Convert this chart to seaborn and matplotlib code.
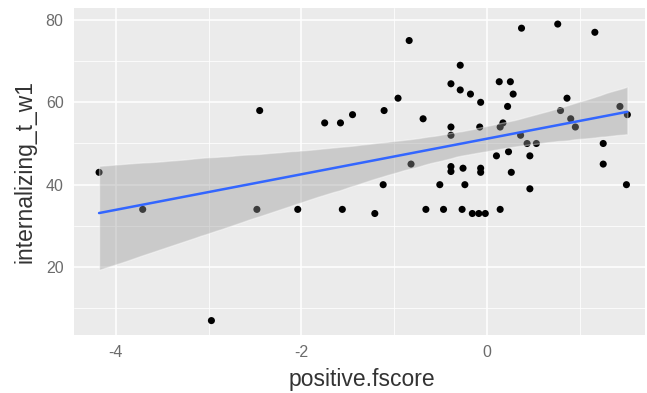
import matplotlib
matplotlib.use("Agg")
import matplotlib.pyplot as plt
import seaborn as sns
import numpy as np
import pandas as pd

positive_fscore = [
    -4.18, -3.71, -2.97, -2.48, -2.45, -2.04, -1.75, -1.58, -1.56, -1.45,
    -1.21, -1.12, -1.11, -0.96, -0.84, -0.82, -0.69, -0.66, -0.51, -0.47,
    -0.39, -0.39, -0.39, -0.39, -0.39, -0.29, -0.29, -0.27, -0.26, -0.24,
    -0.18, -0.16, -0.09, -0.07, -0.08, -0.07, -0.07, -0.02, 0.10, 0.13,
    0.25, 0.28, 0.22, 0.17, 0.14, 0.14, 0.23, 0.26, 0.37, 0.36,
    0.43, 0.53, 0.46, 0.46, 0.76, 0.86, 0.79, 0.90, 0.95, 1.16,
    1.25, 1.25, 1.43, 1.51, 1.50,
]
internalizing_t_w1 = [
    43, 34, 7, 34, 58, 34, 55, 55, 34, 57,
    33, 40, 58, 61, 75, 45, 56, 34, 40, 34,
    64.5, 54, 52, 44.4, 43.2, 69, 63, 34, 44, 40,
    62, 33, 33, 60, 54, 44, 43, 33, 47, 65,
    65, 62, 59, 55, 54, 34, 48, 43, 78, 52,
    50, 50, 47, 39, 79, 61, 58, 56, 54, 77,
    50, 45, 59, 57, 40,
]
x_ticks = [-4, -2, 0]
y_ticks = [20, 40, 60, 80]

df = pd.DataFrame({"positive.fscore": positive_fscore,
                   "internalizing_t_w1": internalizing_t_w1})

sns.set_theme(style="darkgrid")
plt.rcParams["font.family"] = ["Liberation Sans", "DejaVu Sans"]
plt.rcParams["axes.unicode_minus"] = False

fig = plt.figure(figsize=(6.47, 3.93), dpi=100)
ax = fig.add_axes([74/647, 1-335/393, (645-74)/647, (335-8)/393])
ax.set_facecolor("#EBEBEB")

sns.scatterplot(data=df, x="positive.fscore", y="internalizing_t_w1",
                color="black", s=26, edgecolor="none", ax=ax, zorder=3)
sns.regplot(data=df, x="positive.fscore", y="internalizing_t_w1",
            scatter=False, color="#999999", ci=95, truncate=True, ax=ax,
            seed=1, n_boot=2000, line_kws={"lw": 1.8, "zorder": 5})
ax.lines[-1].set_color("#3366FF")
for c in ax.collections[1:]:
    c.set_alpha(0.4)
    c.set_zorder(4)

ax.set_xlim(-4.45, 1.70)
ax.set_ylim(3.5, 82.9)
ax.set_xticks(x_ticks)
ax.set_yticks(y_ticks)
ax.set_xticks([-3, -1, 1], minor=True)
ax.set_yticks([10, 30, 50, 70], minor=True)
ax.grid(which="major", color="white", lw=1.1)
ax.grid(which="minor", color="white", lw=0.55)
ax.set_axisbelow(True)
for s in ax.spines.values():
    s.set_visible(False)
ax.tick_params(which="major", length=4, width=1, color="#555555",
               labelsize=11.5, labelcolor="#6B6B6B", pad=3.5)
ax.tick_params(which="minor", length=0)
ax.set_xlabel("positive.fscore", fontsize=16.5, color="#333333", va="baseline")
ax.xaxis.set_label_coords(0.505, -51/327)
ax.set_ylabel("internalizing_t_w1", fontsize=16.5, color="#333333", va="center")
ax.yaxis.set_label_coords(-(74-25.5)/571, 0.5)

fig.savefig("out.png", dpi=100)
